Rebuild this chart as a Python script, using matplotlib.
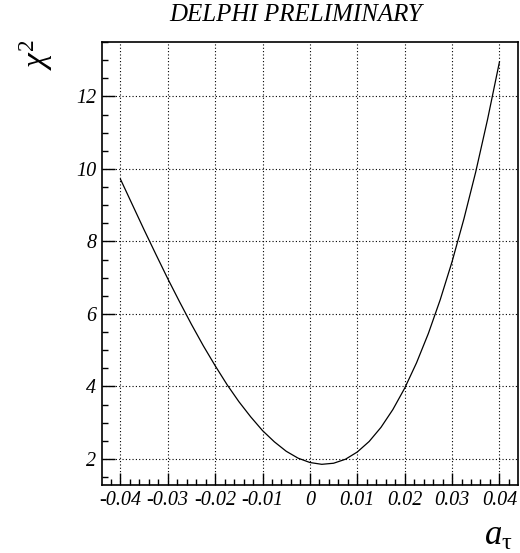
import matplotlib
matplotlib.use('Agg')
import matplotlib.pyplot as plt
from matplotlib.ticker import MultipleLocator, FixedLocator, FixedFormatter

plt.rcParams['font.family'] = ['Liberation Serif', 'DejaVu Serif']
plt.rcParams['axes.unicode_minus'] = False
plt.rcParams['mathtext.fontset'] = 'custom'
plt.rcParams['mathtext.rm'] = 'Liberation Serif'
plt.rcParams['mathtext.it'] = 'Liberation Serif:italic'

# chi2 scan
a_tau = [-0.04, -0.0375, -0.035, -0.0325, -0.03, -0.0275, -0.025, -0.0225,
         -0.02, -0.0175, -0.015, -0.0125, -0.01, -0.0075, -0.005, -0.0025,
         0.0, 0.0025, 0.005, 0.0075, 0.01, 0.0125, 0.015, 0.0175,
         0.02, 0.0225, 0.025, 0.0275, 0.03, 0.0325, 0.035, 0.0375, 0.04]
chi2 = [9.72, 9.02, 8.32, 7.64, 6.97, 6.33, 5.71, 5.12,
        4.57, 4.05, 3.58, 3.16, 2.78, 2.47, 2.21, 2.02,
        1.90, 1.85, 1.88, 1.99, 2.19, 2.48, 2.87, 3.36,
        3.95, 4.65, 5.46, 6.39, 7.44, 8.62, 9.92, 11.37, 12.95]

xticks = [-0.04, -0.03, -0.02, -0.01, 0.0, 0.01, 0.02, 0.03, 0.04]
xlabels = ['-0.04', '-0.03', '-0.02', '-0.01', '0', '0.01', '0.02', '0.03', '0.04']
yticks = [2, 4, 6, 8, 10, 12]

fig = plt.figure(figsize=(5.2, 5.53), dpi=100)
ax = fig.add_axes([0.196, 0.123, 0.8, 0.801])

ax.plot(a_tau, chi2, color='black', lw=0.9)

ax.set_xlim(-0.0439, 0.0439)
ax.set_ylim(1.28, 13.5)

ax.xaxis.set_major_locator(FixedLocator(xticks))
ax.xaxis.set_major_formatter(FixedFormatter(xlabels))
ax.xaxis.set_minor_locator(MultipleLocator(0.002))
ax.yaxis.set_major_locator(FixedLocator(yticks))
ax.yaxis.set_minor_locator(MultipleLocator(0.5))

ax.tick_params(which='both', direction='in', top=False, right=False,
               labelsize=14.5, width=1.0)
ax.tick_params(which='major', length=9, pad=4)
ax.tick_params(which='minor', length=4)
for lab in ax.get_xticklabels() + ax.get_yticklabels():
    lab.set_fontstyle('italic')

ax.grid(True, which='major', color='black', linestyle=(0, (1, 2)), lw=0.8)
for s in ax.spines.values():
    s.set_linewidth(1.2)

fig.text(0.569, 0.972, 'DELPHI PRELIMINARY', ha='center', va='center',
         fontsize=18, fontstyle='italic')
fig.text(0.069, 0.902, r'$\chi^{2}$', ha='center', va='center', fontsize=24,
         rotation=90)
fig.text(0.958, 0.03, r'$a_{\mathrm{τ}}$', ha='center', va='center',
         fontsize=25)

fig.savefig('out.png', dpi=100)
